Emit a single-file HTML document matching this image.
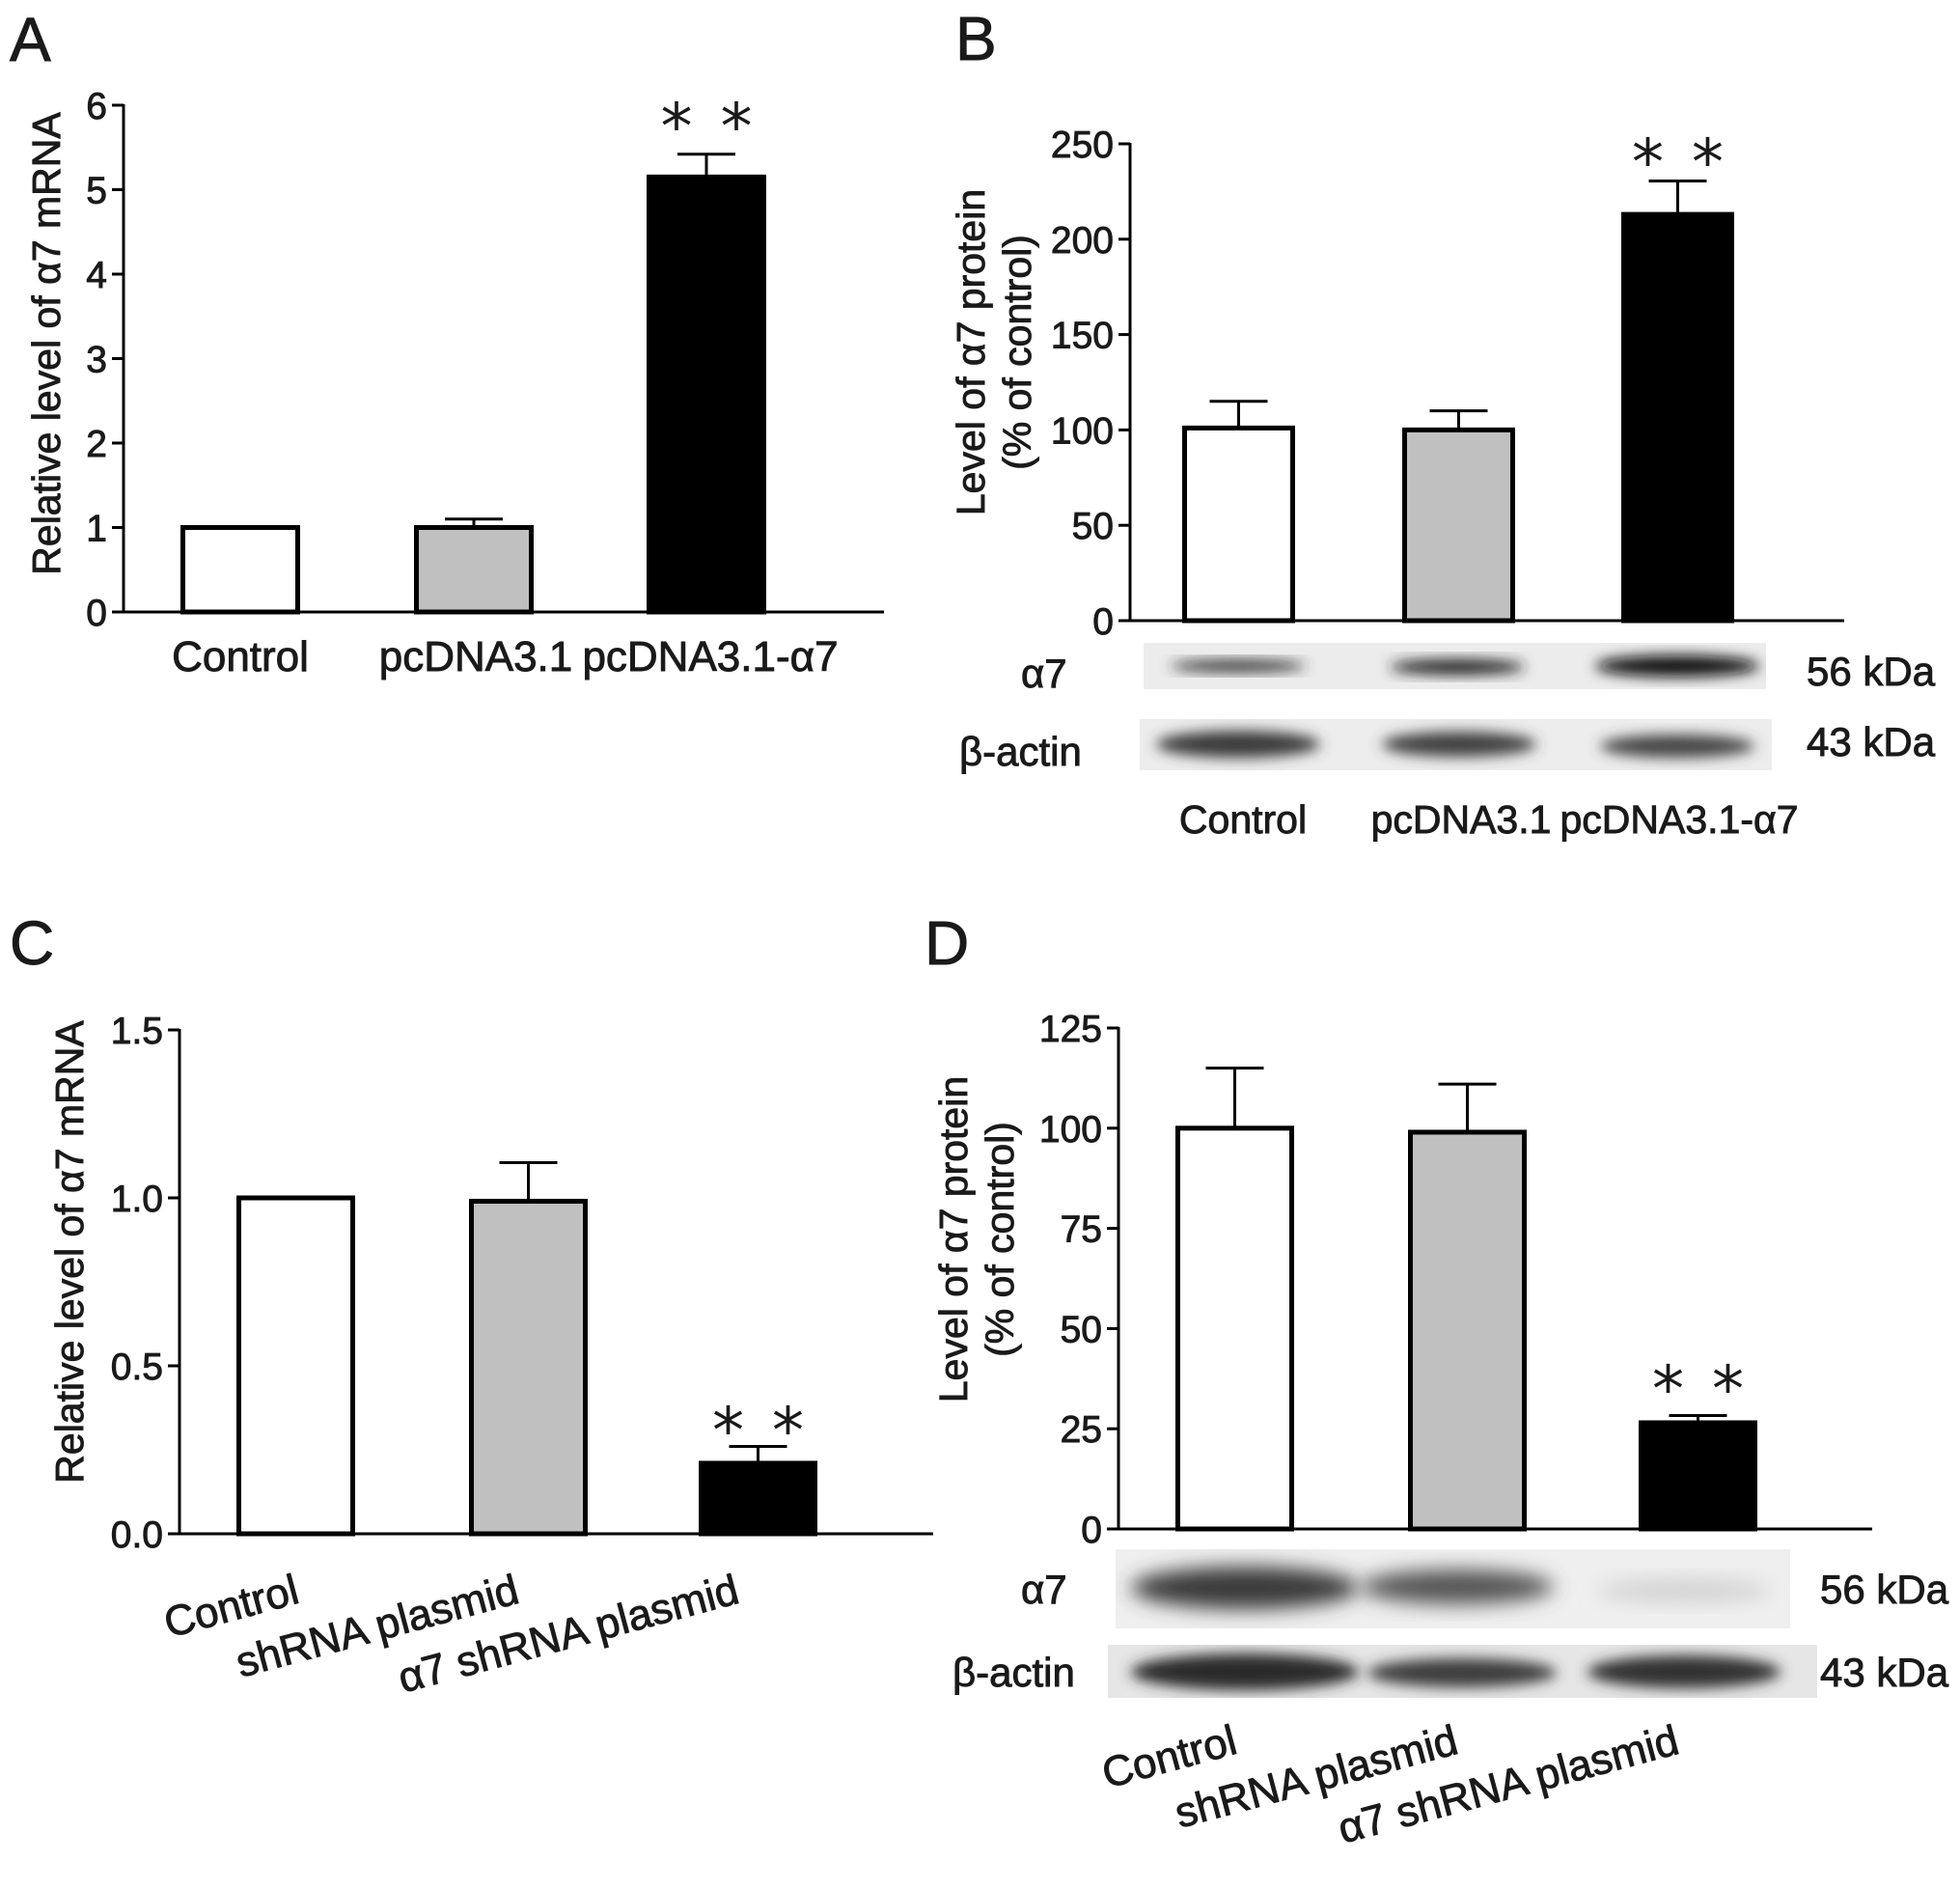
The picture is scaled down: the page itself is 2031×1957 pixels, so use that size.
<!DOCTYPE html>
<html><head><meta charset="utf-8">
<style>
html,body{margin:0;padding:0;background:#fff;}
svg{display:block;}
text{font-family:"Liberation Sans",Arial,sans-serif;fill:#1a1a1a;stroke:#1a1a1a;stroke-width:0.9px;}
</style></head>
<body>
<svg id="fig" width="2031" height="1957" viewBox="0 0 2031 1957" xmlns="http://www.w3.org/2000/svg">
<defs>
<filter id="blur" x="-20%" y="-50%" width="140%" height="200%"><feGaussianBlur stdDeviation="7"/></filter>
<filter id="blur2" x="-20%" y="-50%" width="140%" height="200%"><feGaussianBlur stdDeviation="10"/></filter>
</defs>
<g id="root"></g>
</svg>
<script>
// Panel A data
const catsA = ["Control", "pcDNA3.1", "pcDNA3.1-α7"];
const valsA = [1.0, 1.0, 5.15];
const errsA = [0, 0.1, 0.27];
const ticksA = [0, 1, 2, 3, 4, 5, 6];
const tickLabelsA = ["0", "1", "2", "3", "4", "5", "6"];
// Panel B data
const catsB = ["Control", "pcDNA3.1", "pcDNA3.1-α7"];
const valsB = [101, 100, 213];
const errsB = [14, 10, 17.5];
const ticksB = [0, 50, 100, 150, 200, 250];
const tickLabelsB = ["0", "50", "100", "150", "200", "250"];
// Panel C data
const catsC = ["Control", "shRNA plasmid", "α7 shRNA plasmid"];
const valsC = [1.0, 0.99, 0.21];
const errsC = [0, 0.115, 0.05];
const ticksC = [0, 0.5, 1.0, 1.5];
const tickLabelsC = ["0.0", "0.5", "1.0", "1.5"];
// Panel D data
const catsD = ["Control", "shRNA plasmid", "α7 shRNA plasmid"];
const valsD = [100, 99, 26.5];
const errsD = [15, 12, 1.8];
const ticksD = [0, 25, 50, 75, 100, 125];
const tickLabelsD = ["0", "25", "50", "75", "100", "125"];
const fills = ["#ffffff", "#c0c0c0", "#000000"];

const NS = "http://www.w3.org/2000/svg";
const root = document.getElementById("root");
function el(tag, attrs, parent, txt){
  const e = document.createElementNS(NS, tag);
  for (const k in attrs) e.setAttribute(k, attrs[k]);
  if (txt !== undefined) e.textContent = txt;
  (parent || root).appendChild(e);
  return e;
}

function panel(id, cfg, cats, vals, errs, ticks, tickLabels){
  const g = el("g", {});
  
  
  const yScale = v => cfg.y0 - (v - cfg.vmin) / (cfg.vmax - cfg.vmin) * (cfg.y0 - cfg.ytop);
  const L = el("text", {x: cfg.lx, y: cfg.ly, "font-size": 64}, g, id);
  
  
  for (let i = 0; i < vals.length; i++){
    const x0 = cfg.bx[i], w = cfg.bw;
    const cx = x0 + w / 2;
    const yt = yScale(vals[i]);
    if (errs[i] > 0){
      const ye = yScale(vals[i] + errs[i]);
      const eb = el("g", {}, g);
      
      
      el("line", {x1: cx, y1: yt, x2: cx, y2: ye, stroke: "#000", "stroke-width": 3}, eb);
      el("line", {x1: cx - 30, y1: ye, x2: cx + 30, y2: ye, stroke: "#000", "stroke-width": 3}, eb);
    }
    const r = el("rect", {x: x0 + 2.5, y: yt, width: w - 5, height: cfg.y0 - yt, fill: fills[i], stroke: "#000", "stroke-width": 5}, g);
    
    
  }
  const ax = el("g", {}, g);
  
  
  el("line", {x1: cfg.ax, y1: cfg.ytop - 1, x2: cfg.ax, y2: cfg.y0 + 1.5, stroke: "#000", "stroke-width": 3}, ax);
  el("line", {x1: cfg.ax - 1.5, y1: cfg.y0, x2: cfg.xend, y2: cfg.y0, stroke: "#000", "stroke-width": 3}, ax);
  for (let t = 0; t < ticks.length; t++){
    const y = yScale(ticks[t]);
    el("line", {x1: cfg.ax - 12, y1: y, x2: cfg.ax, y2: y, stroke: "#000", "stroke-width": 3}, ax);
    const tl = el("text", {x: cfg.ax - 17, y: y + 14, "font-size": 39, "text-anchor": "end"}, ax, tickLabels[t]);
    
    
  }
  const yt = el("text", {transform: `translate(${cfg.tx[0]},${cfg.ty}) rotate(-90)`, "font-size": 41, "text-anchor": "middle"}, g, cfg.title[0]);
  
  
  if (cfg.title[1]){
    const yt2 = el("text", {transform: `translate(${cfg.tx[1]},${cfg.ty}) rotate(-90)`, "font-size": 41, "text-anchor": "middle"}, g, cfg.title[1]);
    
    
  }
  const si = cfg.starBar;
  const scx = cfg.bx[si] + cfg.bw / 2;
  [-31, 31].forEach(dx => {
    const st = el("text", {x: scx + dx, y: cfg.starY, "font-size": 66, "text-anchor": "middle"}, g, "*");
    
    
    st.setAttribute('style', 'font-family:"DejaVu Sans",sans-serif;stroke-width:0;');
  });
  for (let i = 0; i < cats.length; i++){
    let c;
    if (cfg.rot){
      c = el("text", {transform: `translate(${cfg.cx[i]},${cfg.cy}) rotate(-15)`, "font-size": 44, "text-anchor": "end"}, g, cats[i]);
    } else {
      c = el("text", {x: cfg.cx[i], y: cfg.cy, "font-size": cfg.cfs, "text-anchor": "middle"}, g, cats[i]);
    }
    
    
  }
  return g;
}

panel("A", {lx: 10, ly: 63, vmin: 0, vmax: 6, y0: 634, ytop: 109, ax: 128, xend: 916,
  bx: [187, 429, 670], bw: 124, tx: [62], ty: 356, title: ["Relative level of α7 mRNA"],
  starBar: 2, starY: 154, cx: [249, 493, 736], cy: 695, rot: false, cfs: 44}, catsA, valsA, errsA, ticksA, tickLabelsA);

panel("B", {lx: 990, ly: 62, vmin: 0, vmax: 250, y0: 643, ytop: 149, ax: 1171, xend: 1911,
  bx: [1225, 1453, 1680], bw: 117, tx: [1020, 1068], ty: 365, title: ["Level of α7 protein", "(% of control)"],
  starBar: 2, starY: 191, cx: [1288, 1514, 1740], cy: 863, rot: false, cfs: 41}, catsB, valsB, errsB, ticksB, tickLabelsB);

panel("C", {lx: 10, ly: 999, vmin: 0, vmax: 1.5, y0: 1589, ytop: 1067, ax: 186, xend: 967,
  bx: [245, 486, 724], bw: 123, tx: [86], ty: 1297, title: ["Relative level of α7 mRNA"],
  starBar: 2, starY: 1505, cx: [312, 540, 768], cy: 1660, rot: true}, catsC, valsC, errsC, ticksC, tickLabelsC);

panel("D", {lx: 958, ly: 999, vmin: 0, vmax: 125, y0: 1584, ytop: 1065, ax: 1159, xend: 1940,
  bx: [1218, 1459, 1698], bw: 123, tx: [1002, 1050], ty: 1284, title: ["Level of α7 protein", "(% of control)"],
  starBar: 2, starY: 1462, cx: [1284, 1513, 1742], cy: 1816, rot: true}, catsD, valsD, errsD, ticksD, tickLabelsD);

function blot(name, x, y, w, h, bg, bands){
  const g = el("g", {});
  
  
  el("rect", {x: x, y: y, width: w, height: h, fill: bg}, g);
  const cp = el("clipPath", {id: "clip-" + name}, g);
  el("rect", {x: x, y: y, width: w, height: h}, cp);
  const cg = el("g", {"clip-path": `url(#clip-${name})`}, g);
  bands.forEach(b => {
    const e = el("ellipse", {cx: b[0], cy: b[1], rx: b[2], ry: b[3], fill: b[4], filter: b[5] ? "url(#blur2)" : "url(#blur)"}, cg);
    
    
  });
}
blot("blot-b-alpha7", 1185, 666, 645, 48, "#ececec", [[1283, 690, 70, 6, "#2a2a2a"], [1510, 691, 70, 8, "#222"], [1738, 690, 85, 11, "#111"]]);
blot("blot-b-actin", 1181, 745, 655, 53, "#ededed", [[1283, 771, 85, 14, "#3a3a3a"], [1512, 771, 80, 13, "#3f3f3f"], [1738, 773, 80, 12, "#444"]]);
blot("blot-d-alpha7", 1156, 1605, 699, 82, "#efefef", [[1290, 1645, 118, 22, "#3a3a3a", 1], [1510, 1644, 100, 18, "#555", 1], [1745, 1648, 90, 12, "#d2d2d2", 1]]);
blot("blot-d-actin", 1148, 1704, 735, 55, "#e6e6e6", [[1290, 1732, 118, 19, "#2a2a2a"], [1515, 1733, 98, 15, "#3c3c3c"], [1745, 1732, 100, 17, "#333"]]);

function lab(name, x, y, txt){
  const t = el("text", {x: x, y: y, "font-size": 42}, root, txt);
  
  
}
lab("blot-label-alpha7-b", 1058, 712, "α7");
lab("blot-label-actin-b", 994, 793, "β-actin");
lab("mw-label-56-b", 1872, 710, "56 kDa");
lab("mw-label-43-b", 1872, 783, "43 kDa");
lab("blot-label-alpha7-d", 1058, 1661, "α7");
lab("blot-label-actin-d", 987, 1747, "β-actin");
lab("mw-label-56-d", 1886, 1661, "56 kDa");
lab("mw-label-43-d", 1886, 1747, "43 kDa");
</script>
</body></html>
